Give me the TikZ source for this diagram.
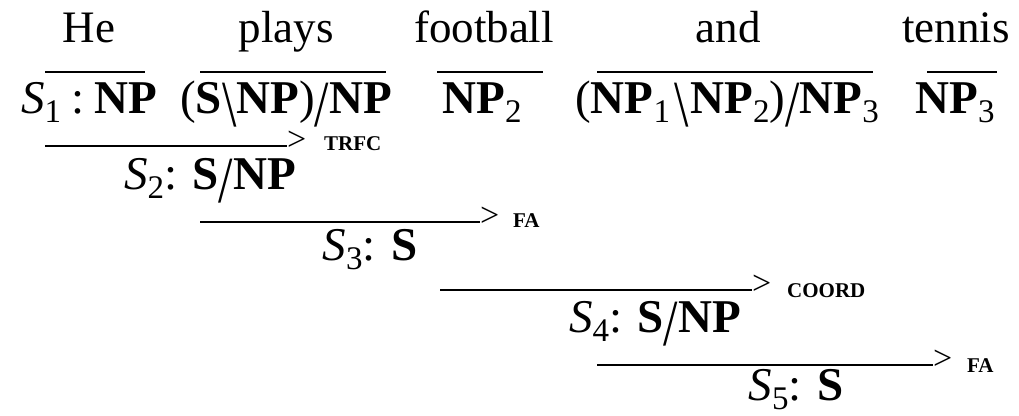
\documentclass[tikz,border=0pt]{standalone}
\usepackage{fontspec}
\setmainfont{Liberation Serif}
\usepackage{graphicx}
\newcommand\ccgsub[1]{\raisebox{-0.21em}{\fontsize{33}{33}\mdseries\upshape\selectfont #1}}
\newcommand\ccgsl{{\mdseries\smash{\raisebox{-0.28em}{\scalebox{1.1}[1.4]{/}}}}}
\newcommand\ccgbs{{\mdseries\smash{\raisebox{-0.28em}{\scalebox{1.1}[1.4]{\textbackslash}}}}}
\tikzset{
  word/.style={font=\fontsize{45}{54}\selectfont, inner sep=0pt, anchor=base},
  cat/.style={font=\fontsize{47}{56}\selectfont, inner sep=0pt, anchor=base},
  rule/.style={line width=1.6pt},
  gt/.style={font=\fontsize{34}{34}\selectfont, inner sep=0pt, anchor=mid west, yshift=-2pt},
  rlab/.style={font=\fontsize{21}{21}\selectfont\bfseries, inner sep=0pt, anchor=west},
}
\begin{document}
\begin{tikzpicture}[x=1pt,y=-1pt]
\useasboundingbox (0,0) rectangle (1019,415);
% words
\node[word] (w1) at (89,42) {He};
\node[word] (w2) at (286,42) {plays};
\node[word] (w3) at (484,42) {football};
\node[word] (w4) at (728,42) {and};
\node[word] (w5) at (956,42) {tennis};
% lexical lines
\coordinate (a1) at (45,72);  \coordinate (b1) at (145,72);
\coordinate (a2) at (200,72); \coordinate (b2) at (386,72);
\coordinate (a3) at (437,72); \coordinate (b3) at (543,72);
\coordinate (a4) at (597,72); \coordinate (b4) at (873,72);
\coordinate (a5) at (927,72); \coordinate (b5) at (997,72);
\draw[rule] (a1) -- (b1);
\draw[rule] (a2) -- (b2);
\draw[rule] (a3) -- (b3);
\draw[rule] (a4) -- (b4);
\draw[rule] (a5) -- (b5);
% categories
\node[cat] (c1) at (89,113) {\textit{S}\ccgsub{1}\hspace{10pt}:\hspace{10pt}\textbf{NP}};
\node[cat] (c2) at (286,113) {(\textbf{S}\ccgbs\textbf{NP})\ccgsl\textbf{NP}};
\node[cat] (c3) at (482,113) {\textbf{NP}\ccgsub{2}};
\node[cat] (c4) at (727,113) {(\textbf{NP}\ccgsub{1}\hspace{4pt}\ccgbs\hspace{2pt}\textbf{NP}\ccgsub{2})\ccgsl\textbf{NP}\ccgsub{3}};
\node[cat] (c5) at (955,113) {\textbf{NP}\ccgsub{3}};
% rule 1: TRFC
\coordinate (r1a) at (45,146); \coordinate (r1b) at (287,146);
\draw[rule] (r1a) -- (r1b);
\node[gt] (g1) at (r1b) {>};
\node[rlab] (l1) at (324,144) {TRFC};
\node[cat] (s2) at (210,189) {\textit{S}\ccgsub{2}: \textbf{S}\ccgsl\textbf{NP}};
% rule 2: FA
\coordinate (r2a) at (200,222); \coordinate (r2b) at (480,222);
\draw[rule] (r2a) -- (r2b);
\node[gt] (g2) at (r2b) {>};
\node[rlab] (l2) at (513,221) {FA};
\node[cat] (s3) at (370,260) {\textit{S}\ccgsub{3}: \textbf{S}};
% rule 3: COORD
\coordinate (r3a) at (440,290); \coordinate (r3b) at (752,290);
\draw[rule] (r3a) -- (r3b);
\node[gt] (g3) at (r3b) {>};
\node[rlab] (l3) at (787,291) {COORD};
\node[cat] (s4) at (655,332) {\textit{S}\ccgsub{4}: \textbf{S}\ccgsl\textbf{NP}};
% rule 4: FA
\coordinate (r4a) at (597,365); \coordinate (r4b) at (933,365);
\draw[rule] (r4a) -- (r4b);
\node[gt] (g4) at (r4b) {>};
\node[rlab] (l4) at (967,366) {FA};
\node[cat] (s5) at (796,400) {\textit{S}\ccgsub{5}: \textbf{S}};
\end{tikzpicture}
\end{document}
